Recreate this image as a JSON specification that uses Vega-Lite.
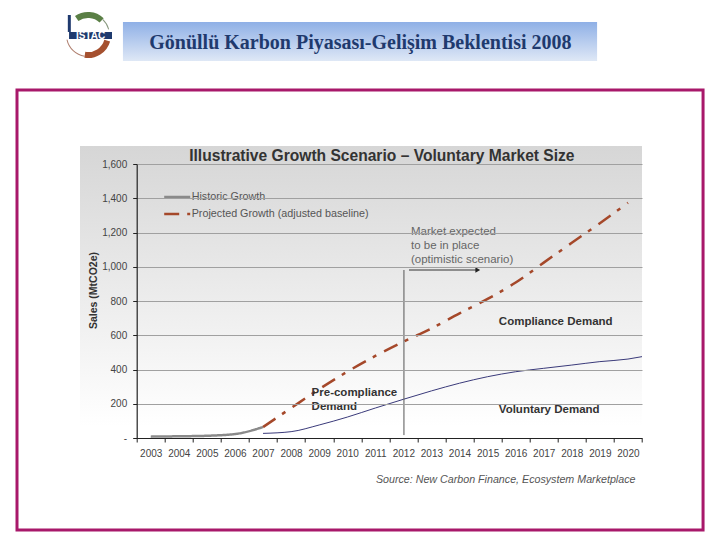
{
  "$schema": "https://vega.github.io/schema/vega-lite/v6.json",
  "width": 505.3,
  "height": 274,
  "autosize": "none",
  "padding": {"left": 136.7, "top": 164, "right": 78, "bottom": 102},
  "background": "#ffffff",
  "view": {"stroke": null},
  "config": {"font": "Liberation Sans"},
  "title": {
    "text": "Gönüllü Karbon Piyasası-Gelişim Beklentisi 2008",
    "font": "Liberation Serif",
    "fontSize": 20,
    "fontWeight": "bold",
    "color": "#1f3a6e",
    "anchor": "middle",
    "dx": -29,
    "offset": -41,
    "zindex": 1
  },
  "datasets": {
    "series": [
      {"series": "Historic Growth", "year": 2003, "sales": 8},
      {"series": "Historic Growth", "year": 2004, "sales": 10},
      {"series": "Historic Growth", "year": 2005, "sales": 13},
      {"series": "Historic Growth", "year": 2006, "sales": 23},
      {"series": "Historic Growth", "year": 2007, "sales": 64},
      {"series": "Projected Growth (adjusted baseline)", "year": 2007, "sales": 64},
      {"series": "Projected Growth (adjusted baseline)", "year": 2008, "sales": 175},
      {"series": "Projected Growth (adjusted baseline)", "year": 2009, "sales": 285},
      {"series": "Projected Growth (adjusted baseline)", "year": 2010, "sales": 387},
      {"series": "Projected Growth (adjusted baseline)", "year": 2011, "sales": 479},
      {"series": "Projected Growth (adjusted baseline)", "year": 2012, "sales": 562},
      {"series": "Projected Growth (adjusted baseline)", "year": 2013, "sales": 640},
      {"series": "Projected Growth (adjusted baseline)", "year": 2014, "sales": 728},
      {"series": "Projected Growth (adjusted baseline)", "year": 2015, "sales": 812},
      {"series": "Projected Growth (adjusted baseline)", "year": 2016, "sales": 908},
      {"series": "Projected Growth (adjusted baseline)", "year": 2017, "sales": 1024},
      {"series": "Projected Growth (adjusted baseline)", "year": 2018, "sales": 1140},
      {"series": "Projected Growth (adjusted baseline)", "year": 2019, "sales": 1254},
      {"series": "Projected Growth (adjusted baseline)", "year": 2020, "sales": 1374}
    ],
    "voluntary": [
      {"year": 2007, "sales": 27},
      {"year": 2008, "sales": 37},
      {"year": 2009, "sales": 76},
      {"year": 2010, "sales": 122},
      {"year": 2011, "sales": 175},
      {"year": 2012, "sales": 226},
      {"year": 2013, "sales": 275},
      {"year": 2014, "sales": 320},
      {"year": 2015, "sales": 358},
      {"year": 2016, "sales": 387},
      {"year": 2017, "sales": 407},
      {"year": 2018, "sales": 426},
      {"year": 2019, "sales": 446},
      {"year": 2020, "sales": 461},
      {"year": 2020.5, "sales": 475}
    ],
    "notes": [
      {"label": "Market expected", "year": 2012.27, "sales": 1203},
      {"label": "to be in place", "year": 2012.27, "sales": 1121},
      {"label": "(optimistic scenario)", "year": 2012.27, "sales": 1039}
    ],
    "boldNotes": [
      {"label": "Compliance Demand", "year": 2015.4, "sales": 677},
      {"label": "Voluntary Demand", "year": 2015.4, "sales": 163},
      {"label": "Pre-compliance", "year": 2008.73, "sales": 263},
      {"label": "Demand", "year": 2008.73, "sales": 181}
    ]
  },
  "layer": [
    {
      "data": {"values": [{"item": "frame"}]},
      "mark": {"type": "rect", "fill": "#ffffff", "stroke": "#a8186a", "strokeWidth": 3},
      "encoding": {
        "x": {"datum": 1998.236, "type": "quantitative", "scale": {"domain": [2002.5, 2020.5], "nice": false, "zero": false}},
        "x2": {"datum": 2022.675},
        "y": {"datum": 2032, "type": "quantitative", "scale": {"domain": [0, 1600], "nice": false}},
        "y2": {"datum": -537}
      }
    },
    {
      "data": {"values": [{"item": "header"}]},
      "mark": {
        "type": "rect",
        "fill": {"gradient": "linear", "x1": 0, "y1": 0, "x2": 0, "y2": 1, "stops": [{"offset": 0, "color": "#8fb0e6"}, {"offset": 1, "color": "#dfe8f6"}]}
      },
      "encoding": {
        "x": {"datum": 2002.01, "type": "quantitative"},
        "x2": {"datum": 2018.9},
        "y": {"datum": 2429, "type": "quantitative"},
        "y2": {"datum": 2201}
      }
    },
    {
      "data": {"values": [{"item": "panel"}]},
      "mark": {
        "type": "rect",
        "fill": {"gradient": "linear", "x1": 0, "y1": 0, "x2": 0, "y2": 1, "stops": [{"offset": 0, "color": "#d6d6d6"}, {"offset": 0.96, "color": "#ffffff"}]}
      },
      "encoding": {
        "x": {"datum": 2000.48, "type": "quantitative"},
        "x2": {"datum": 2020.5},
        "y": {"datum": 1705, "type": "quantitative"},
        "y2": {"datum": 0}
      }
    },
    {
      "data": {"values": [{"item": "green arc"}]},
      "mark": {"type": "arc", "innerRadius": 17, "outerRadius": 23, "theta": -0.6, "theta2": 0.75, "fill": "#5a7f45"},
      "encoding": {
        "x": {"datum": 2000.765, "type": "quantitative"},
        "y": {"datum": 2353, "type": "quantitative"}
      }
    },
    {
      "data": {"values": [{"item": "green arrow"}]},
      "mark": {"type": "arc", "innerRadius": 21, "outerRadius": 22, "theta": 0.75, "theta2": 1.3, "fill": "#8a9a80"},
      "encoding": {
        "x": {"datum": 2000.765, "type": "quantitative"},
        "y": {"datum": 2353, "type": "quantitative"}
      }
    },
    {
      "data": {"values": [{"item": "brown arc"}]},
      "mark": {"type": "arc", "innerRadius": 17, "outerRadius": 23, "theta": 1.85, "theta2": 3.3, "fill": "#a5502f"},
      "encoding": {
        "x": {"datum": 2000.765, "type": "quantitative"},
        "y": {"datum": 2353, "type": "quantitative"}
      }
    },
    {
      "data": {"values": [{"item": "brown arrow"}]},
      "mark": {"type": "arc", "innerRadius": 21, "outerRadius": 22, "theta": 3.3, "theta2": 4.5, "fill": "#b08070"},
      "encoding": {
        "x": {"datum": 2000.765, "type": "quantitative"},
        "y": {"datum": 2353, "type": "quantitative"}
      }
    },
    {
      "data": {"values": [{"item": "minaret"}]},
      "mark": {"type": "rule", "color": "#1f3a6e", "strokeWidth": 3},
      "encoding": {
        "x": {"datum": 2000.1, "type": "quantitative"},
        "y": {"datum": 2470, "type": "quantitative"},
        "y2": {"datum": 2371}
      }
    },
    {
      "data": {"values": [{"item": "logo bar"}]},
      "mark": {"type": "rect", "fill": "#1f3a6e"},
      "encoding": {
        "x": {"datum": 2000.09, "type": "quantitative"},
        "x2": {"datum": 2001.62},
        "y": {"datum": 2371, "type": "quantitative"},
        "y2": {"datum": 2330}
      }
    },
    {
      "data": {"values": [{"label": "İSTAC"}]},
      "mark": {"type": "text", "align": "center", "baseline": "middle", "fontSize": 10, "fontWeight": "bold", "color": "#ffffff", "dy": 0.5},
      "encoding": {
        "x": {"datum": 2000.855, "type": "quantitative"},
        "y": {"datum": 2350, "type": "quantitative"},
        "text": {"field": "label"}
      }
    },
    {
      "data": {"values": [{"item": "axes"}]},
      "mark": {"type": "rule", "opacity": 0},
      "encoding": {
        "x": {
          "datum": 2002.5,
          "type": "quantitative",
          "axis": {
            "values": [2002.5, 2003.5, 2004.5, 2005.5, 2006.5, 2007.5, 2008.5, 2009.5, 2010.5, 2011.5, 2012.5, 2013.5, 2014.5, 2015.5, 2016.5, 2017.5, 2018.5, 2019.5, 2020.5],
            "tickCount": 30,
            "labelExpr": "datum.value < 2020 ? format(datum.value + 0.5, 'd') : ''",
            "labelOffset": 14,
            "labelFontSize": 10,
            "labelColor": "#444444",
            "labelPadding": 6,
            "labelFlush": false,
            "labelOverlap": false,
            "tickSize": 4,
            "tickColor": "#222222",
            "domainColor": "#222222",
            "domainWidth": 1.2,
            "grid": false,
            "title": null,
            "zindex": 1
          }
        },
        "y": {
          "datum": 0,
          "type": "quantitative",
          "axis": {
            "values": [0, 200, 400, 600, 800, 1000, 1200, 1400, 1600],
            "tickCount": 20,
            "labelExpr": "datum.value === 0 ? '-' : format(datum.value, ',')",
            "labelFontSize": 10,
            "labelColor": "#444444",
            "labelPadding": 6,
            "labelOverlap": false,
            "tickSize": 4,
            "tickColor": "#222222",
            "domainColor": "#222222",
            "domainWidth": 1.2,
            "grid": true,
            "gridColor": "#a0a0a0",
            "gridWidth": 1,
            "title": "Sales (MtCO2e)",
            "titleFontSize": 10.5,
            "titleFontWeight": "bold",
            "titleColor": "#333333",
            "titleX": -38,
            "titleY": 126,
            "zindex": 1
          }
        }
      }
    },
    {
      "data": {"name": "voluntary"},
      "mark": {"type": "line", "interpolate": "monotone", "color": "#3a3a7a", "strokeWidth": 1},
      "encoding": {
        "x": {"field": "year", "type": "quantitative"},
        "y": {"field": "sales", "type": "quantitative"}
      }
    },
    {
      "data": {"name": "series"},
      "mark": {"type": "line", "interpolate": "monotone", "strokeWidth": 2.5},
      "encoding": {
        "x": {"field": "year", "type": "quantitative"},
        "y": {"field": "sales", "type": "quantitative"},
        "color": {
          "field": "series",
          "type": "nominal",
          "scale": {"domain": ["Historic Growth", "Projected Growth (adjusted baseline)"], "range": ["#8a8a8a", "#a5482a"]},
          "legend": {
            "orient": "none",
            "legendX": 26,
            "legendY": 27,
            "title": null,
            "symbolType": "stroke",
            "symbolSize": 676,
            "symbolStrokeWidth": 2.5,
            "labelFontSize": 10.75,
            "labelColor": "#555555",
            "labelOffset": 0,
            "labelLimit": 300,
            "clipHeight": 12,
            "rowPadding": 5
          }
        },
        "strokeDash": {
          "field": "series",
          "type": "nominal",
          "scale": {"domain": ["Historic Growth", "Projected Growth (adjusted baseline)"], "range": [[1, 0], [15, 8, 4, 8.7]]},
          "legend": null
        }
      }
    },
    {
      "data": {"values": [{"item": "market line"}]},
      "mark": {"type": "rule", "color": "#555555", "strokeWidth": 1},
      "encoding": {
        "x": {"datum": 2012.02, "type": "quantitative"},
        "y": {"datum": 981, "type": "quantitative"},
        "y2": {"datum": 17}
      }
    },
    {
      "data": {"values": [{"item": "arrow"}]},
      "mark": {"type": "rule", "color": "#333333", "strokeWidth": 1},
      "encoding": {
        "x": {"datum": 2012.2, "type": "quantitative"},
        "x2": {"datum": 2014.65},
        "y": {"datum": 981, "type": "quantitative"}
      }
    },
    {
      "data": {"values": [{"item": "arrow head"}]},
      "mark": {"type": "point", "shape": "triangle-right", "filled": true, "color": "#222222", "size": 30, "opacity": 1},
      "encoding": {
        "x": {"datum": 2014.65, "type": "quantitative"},
        "y": {"datum": 981, "type": "quantitative"}
      }
    },
    {
      "data": {"name": "notes"},
      "mark": {"type": "text", "align": "left", "baseline": "middle", "fontSize": 11.5, "color": "#666666"},
      "encoding": {
        "x": {"field": "year", "type": "quantitative"},
        "y": {"field": "sales", "type": "quantitative"},
        "text": {"field": "label"}
      }
    },
    {
      "data": {"name": "boldNotes"},
      "mark": {"type": "text", "align": "left", "baseline": "middle", "fontSize": 11.5, "fontWeight": "bold", "color": "#333333"},
      "encoding": {
        "x": {"field": "year", "type": "quantitative"},
        "y": {"field": "sales", "type": "quantitative"},
        "text": {"field": "label"}
      }
    },
    {
      "data": {"values": [{"label": "Illustrative Growth Scenario – Voluntary Market Size"}]},
      "mark": {"type": "text", "align": "left", "baseline": "middle", "fontSize": 15.6, "fontWeight": "bold", "color": "#333333", "dy": 1},
      "encoding": {
        "x": {"datum": 2004.37, "type": "quantitative"},
        "y": {"datum": 1652, "type": "quantitative"},
        "text": {"field": "label"}
      }
    },
    {
      "data": {"values": [{"label": "Source: New Carbon Finance, Ecosystem Marketplace"}]},
      "mark": {"type": "text", "align": "left", "baseline": "middle", "fontSize": 10.7, "fontStyle": "italic", "color": "#555555"},
      "encoding": {
        "x": {"datum": 2011.02, "type": "quantitative"},
        "y": {"datum": -245, "type": "quantitative"},
        "text": {"field": "label"}
      }
    }
  ]
}
